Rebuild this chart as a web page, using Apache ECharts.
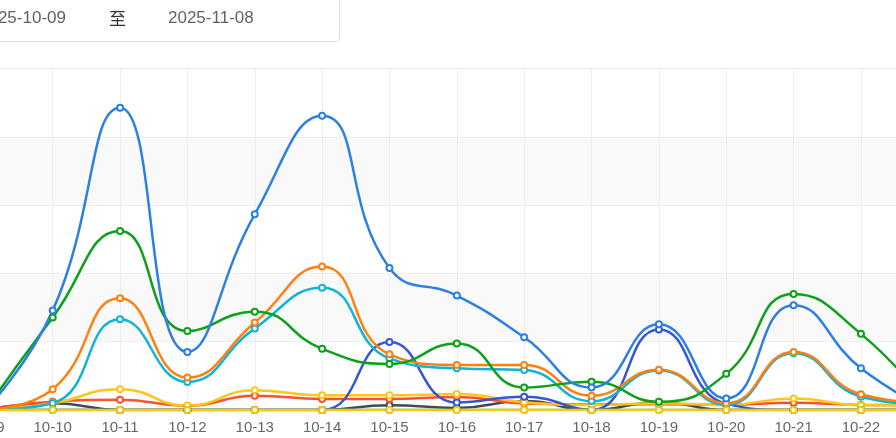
<!DOCTYPE html>
<html>
<head>
<meta charset="utf-8">
<script src="https://cdn.jsdelivr.net/npm/echarts@6/dist/echarts.min.js"></script>
<style>
  html, body { margin: 0; padding: 0; background: #fff; overflow: hidden; }
  #wrap { position: relative; width: 896px; height: 438px; overflow: hidden; }
  #chart { position: absolute; left: -50px; top: 0; width: 1010px; height: 438px; }
  .range {
    position: absolute; left: -60px; top: -20px; width: 400px; height: 62px;
    border: 1px solid #dcdfe6; border-radius: 4px; box-sizing: border-box;
    font-family: 'Liberation Sans', Arial, sans-serif; font-size: 17px; color: #606266;
  }
  .range span { position: absolute; top: 27px; line-height: 20px; }
</style>
</head>
<body>
<div id="wrap">
  <div id="chart"></div>
  <div class="range">
    <span style="left:38px">2025-10-09</span>
    <span style="left:168px;font-family:'Noto Sans CJK SC';color:#303133">至</span>
    <span style="left:227px">2025-11-08</span>
  </div>
</div>
<script>
// 日期（只保留画面里能看到的部分）
var dates = ['10-09', '10-10', '10-11', '10-12', '10-13', '10-14', '10-15', '10-16',
  '10-17', '10-18', '10-19', '10-20', '10-21', '10-22', '10-23'];

var blueData   = [0, 29.1, 88.5, 17.0, 57.3, 86.2, 41.6, 33.5, 21.3, 6.6, 25.1, 3.4, 30.7, 12.2, 0];
var greenData  = [0, 27.1, 52.4, 23.1, 28.8, 17.9, 13.5, 19.5, 6.6, 8.3, 2.4, 10.6, 34.0, 22.3, 1.5];
var orangeData = [0, 6.1, 32.7, 9.5, 25.6, 42.0, 16.3, 13.2, 13.2, 4.2, 11.8, 2.0, 17.0, 4.6, 2.0];
var cyanData   = [0, 2.0, 26.6, 8.2, 23.9, 35.8, 15.1, 12.2, 11.7, 2.6, 11.6, 1.5, 16.6, 3.9, 1.5];
var indigoData = [0, 0, 0, 0, 0, 0, 19.9, 2.2, 3.9, 0, 23.6, 1.8, 0, 0, 0];
var goldData   = [0, 2.0, 6.1, 1.3, 5.8, 4.3, 4.3, 4.7, 2.3, 1.5, 2.0, 1.5, 3.4, 1.4, 1.4];
var redData    = [0, 2.4, 3.0, 1.2, 4.2, 3.2, 3.2, 3.8, 1.9, 1.6, 1.7, 1.5, 2.1, 1.5, 1.5];
var slateData  = [0, 2.0, 0, 0, 0, 0, 1.4, 0.6, 2.6, 0, 2.3, 0, 0, 0, 0];
var zeroData1  = [0, 0, 0, 0, 0, 0, 0, 0, 0, 0, 0, 0, 0, 0, 0];
var zeroData2  = [0, 0, 0, 0, 0, 0, 0, 0, 0, 0, 0, 0, 0, 0, 0];

var chart = echarts.init(document.getElementById('chart'));

function line(name, data, color) {
  return {
    name: name,
    type: 'line',
    smooth: true,
    symbol: 'emptyCircle',
    symbolSize: 6,
    showAllSymbol: true,
    data: data,
    itemStyle: { color: color, borderWidth: 1.5 },
    lineStyle: { color: color, width: 2.5 }
  };
}

chart.setOption({
  animation: false,
  grid: { left: 35.35, right: 31.7, top: 68.5, bottom: 28, outerBoundsMode: 'none' },
  xAxis: {
    type: 'category',
    boundaryGap: false,
    data: dates,
    axisLine: { lineStyle: { color: '#e6e6e6' } },
    axisTick: { show: false },
    axisLabel: { color: '#666', fontSize: 15, margin: 10, fontFamily: 'Liberation Sans' },
    splitLine: { show: true, lineStyle: { color: '#eeeeee' } }
  },
  yAxis: {
    type: 'value',
    min: 0,
    max: 100,
    interval: 20,
    axisLine: { show: false },
    axisTick: { show: false },
    axisLabel: { show: false },
    splitLine: { lineStyle: { color: '#eeeeee' } },
    splitArea: { show: true, areaStyle: { color: ['#ffffff', '#f9f9f9'] } }
  },
  series: [
    line('s8', slateData, '#3d4b5c'),
    line('s7', redData, '#ff5030'),
    line('s6', goldData, '#ffc61a'),
    line('s5', indigoData, '#3558d2'),
    line('s4', cyanData, '#10b4d4'),
    line('s3', orangeData, '#ff8010'),
    line('s2', greenData, '#0ea01a'),
    line('s1', blueData, '#2d80e3'),
    line('s9', zeroData1, '#2a9d4a'),
    line('s10', zeroData2, '#ffc61a')
  ]
});
</script>
</body>
</html>
